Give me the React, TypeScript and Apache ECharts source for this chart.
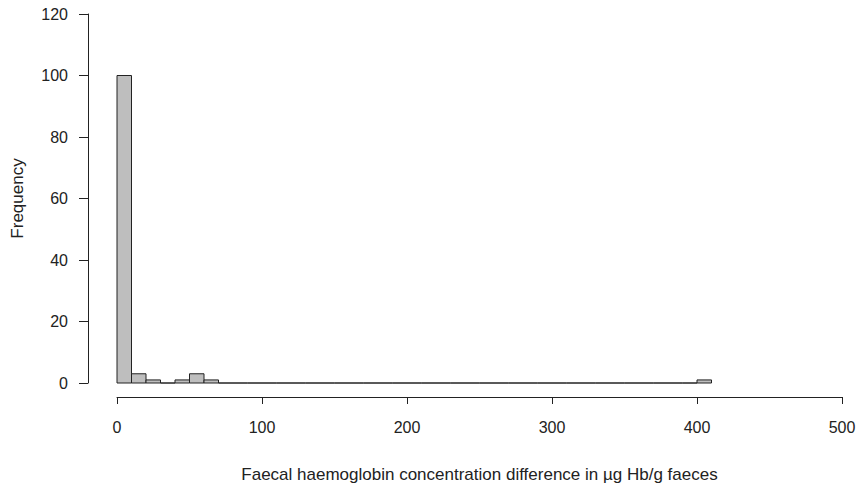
import React, { useEffect, useRef } from "react";
import * as echarts from "echarts";

// Histogram bins (µg Hb/g), width 10
const binStarts = [
  0, 10, 20, 30, 40, 50, 60, 70, 80, 90,
  100, 110, 120, 130, 140, 150, 160, 170, 180, 190,
  200, 210, 220, 230, 240, 250, 260, 270, 280, 290,
  300, 310, 320, 330, 340, 350, 360, 370, 380, 390,
  400,
];
const binWidth = 10;
const counts = [
  100, 3, 1, 0, 1, 3, 1, 0, 0, 0,
  0, 0, 0, 0, 0, 0, 0, 0, 0, 0,
  0, 0, 0, 0, 0, 0, 0, 0, 0, 0,
  0, 0, 0, 0, 0, 0, 0, 0, 0, 0,
  1,
];
const xTitle = "Faecal haemoglobin concentration difference in µg Hb/g faeces";
const yTitle = "Frequency";

export default function App() {
  const ref = useRef<HTMLDivElement>(null);
  useEffect(() => {
    if (!ref.current) return;
    const chart = echarts.init(ref.current, null, { renderer: "svg" });
    const data = binStarts.map((s, i) => [s, s + binWidth, counts[i]]);
    const font = "'Liberation Sans', Arial, sans-serif";
    chart.setOption({
      animation: false,
      backgroundColor: "#ffffff",
      grid: {
        left: 117,
        right: 16,
        top: 14,
        bottom: 101,
        containLabel: false,
        outerBoundsMode: "none",
      },
      xAxis: {
        type: "value",
        min: 0,
        max: 500,
        interval: 100,
        offset: 14,
        splitLine: { show: false },
        axisLine: { show: true, onZero: false, lineStyle: { color: "#222", width: 1 } },
        axisTick: { show: true, length: 7, lineStyle: { color: "#222" } },
        axisLabel: { color: "#222", fontSize: 16, fontFamily: font, margin: 22 },
        name: xTitle,
        nameLocation: "middle",
        nameGap: 69,
        nameTextStyle: { color: "#222", fontSize: 17, fontFamily: font },
      },
      yAxis: {
        type: "value",
        min: 0,
        max: 120,
        interval: 20,
        offset: 29,
        splitLine: { show: false },
        axisLine: { show: true, onZero: false, lineStyle: { color: "#222", width: 1 } },
        axisTick: { show: true, length: 9, lineStyle: { color: "#222" } },
        axisLabel: { color: "#222", fontSize: 16, fontFamily: font, margin: 20 },
        name: yTitle,
        nameLocation: "middle",
        nameGap: 62,
        nameRotate: 90,
        nameTextStyle: { color: "#222", fontSize: 17, fontFamily: font },
      },
      series: [
        {
          type: "custom",
          data,
          encode: { x: [0, 1], y: 2 },
          renderItem: (params: any, api: any) => {
            const s = api.value(0);
            const e = api.value(1);
            const c = api.value(2);
            const p0 = api.coord([s, 0]);
            const p1 = api.coord([e, c]);
            return {
              type: "polygon",
              shape: {
                points: [
                  [p0[0], p0[1]],
                  [p1[0], p0[1]],
                  [p1[0], p1[1]],
                  [p0[0], p1[1]],
                ],
              },
              style: { fill: "#bebebe", stroke: "#222", lineWidth: 1 },
            };
          },
        },
      ],
    });
    return () => chart.dispose();
  }, []);
  return <div ref={ref} style={{ width: 858, height: 484, position: "absolute", left: 0, top: 0 }} />;
}
